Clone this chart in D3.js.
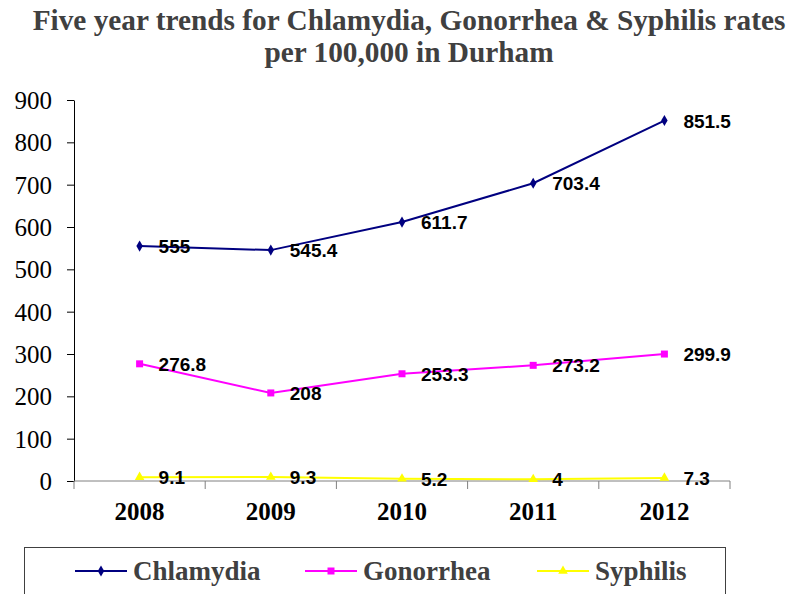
<!DOCTYPE html>
<html>
<head>
<meta charset="utf-8">
<script src="https://cdn.jsdelivr.net/npm/d3@7"></script>
<style>
  html, body { margin: 0; padding: 0; background: #fff; }
  svg { display: block; }
</style>
</head>
<body>
<svg id="chart" width="790" height="594"></svg>
<script>
// Rates per 100,000 population, by year
const years = ["2008", "2009", "2010", "2011", "2012"];
const chlamydia = [555, 545.4, 611.7, 703.4, 851.5];
const gonorrhea = [276.8, 208, 253.3, 273.2, 299.9];
const syphilis = [9.1, 9.3, 5.2, 4, 7.3];
const yTicks = [0, 100, 200, 300, 400, 500, 600, 700, 800, 900];
const seriesNames = ["Chlamydia", "Gonorrhea", "Syphilis"];

const SERIF = "'Liberation Serif'";
const SANS = "'Liberation Sans'";

const series = [
  { name: seriesNames[0], values: chlamydia, color: "#000080", symbol: d3.symbolDiamond, size: 36 },
  { name: seriesNames[1], values: gonorrhea, color: "#FF00FF", symbol: d3.symbolSquare, size: 49 },
  { name: seriesNames[2], values: syphilis, color: "#FFFF00", symbol: d3.symbolTriangle, size: 40 }
];

const svg = d3.select("#chart");
const plot = { left: 74, right: 730, top: 100, bottom: 481 };

const x = d3.scaleBand().domain(years).range([plot.left, plot.right]);
const y = d3.scaleLinear().domain([0, 900]).range([plot.bottom, plot.top]);

// Title: two centred lines, sized so the first line spans the chart width
const titleLines = ["Five year trends for Chlamydia, Gonorrhea & Syphilis rates", "per 100,000 in Durham"];
const title = svg.append("text")
  .attr("text-anchor", "middle")
  .style("font-family", SERIF)
  .attr("font-weight", "bold")
  .attr("font-size", 29)
  .attr("fill", "#404040");
title.selectAll("tspan").data(titleLines).enter().append("tspan")
  .attr("x", 409)
  .attr("y", (d, i) => 30 + i * 32)
  .text(d => d);
const firstW = title.select("tspan").node().getComputedTextLength();
if (firstW > 0) title.attr("font-size", Math.min(30, 29 * 753 / firstW));

// Y axis
const yAxis = svg.append("g")
  .attr("transform", `translate(${plot.left},0)`)
  .call(d3.axisLeft(y).tickValues(yTicks).tickSize(7).tickPadding(15).tickSizeOuter(0));
yAxis.attr("font-family", null).attr("font-size", null);
yAxis.select(".domain").attr("stroke", "#000");
yAxis.selectAll(".tick line").attr("stroke", "#000");
yAxis.selectAll("text")
  .style("font-family", SERIF)
  .attr("font-size", 25)
  .attr("dy", "0.34em")
  .attr("fill", "#000");

// X axis with ticks between categories
const xAxis = svg.append("g").attr("transform", `translate(0,${plot.bottom})`);
xAxis.append("line")
  .attr("x1", plot.left).attr("x2", plot.right)
  .attr("stroke", "#808080").attr("stroke-width", 1);
const boundaries = years.map(d => x(d)).concat([x(years[years.length - 1]) + x.bandwidth()]);
xAxis.selectAll("line.tick").data(boundaries).enter().append("line")
  .attr("class", "tick")
  .attr("x1", d => d).attr("x2", d => d)
  .attr("y1", 0).attr("y2", 8)
  .attr("stroke", "#808080");
xAxis.selectAll("text").data(years).enter().append("text")
  .attr("x", d => x(d) + x.bandwidth() / 2)
  .attr("y", 39)
  .attr("text-anchor", "middle")
  .style("font-family", SERIF)
  .attr("font-weight", "bold")
  .attr("font-size", 25)
  .attr("fill", "#000")
  .text(d => d);

const cx = d => x(d) + x.bandwidth() / 2;
const line = d3.line().x((v, i) => cx(years[i])).y(v => y(v));

// Series lines and markers
series.forEach(s => {
  const g = svg.append("g");
  g.append("path")
    .datum(s.values)
    .attr("d", line)
    .attr("fill", "none")
    .attr("stroke", s.color)
    .attr("stroke-width", 2);
  g.selectAll("path.marker").data(s.values).enter().append("path")
    .attr("class", "marker")
    .attr("d", d3.symbol().type(s.symbol).size(s.size))
    .attr("transform", (v, i) => `translate(${cx(years[i])},${y(v)})`)
    .attr("fill", s.color);
});

// Value labels to the right of each point
series.forEach(s => {
  svg.append("g").selectAll("text").data(s.values).enter().append("text")
    .attr("x", (v, i) => cx(years[i]) + 19)
    .attr("y", v => y(v) + 7)
    .style("font-family", SANS)
    .attr("font-weight", "bold")
    .attr("font-size", 19)
    .attr("fill", "#000")
    .text(v => String(v));
});

// Legend
svg.append("rect")
  .attr("x", 24.5).attr("y", 547.5)
  .attr("width", 701).attr("height", 60)
  .attr("fill", "#fff")
  .attr("stroke", "#404040").attr("stroke-width", 1);
const legendX = [75, 305, 537];
series.forEach((s, i) => {
  const g = svg.append("g").attr("transform", `translate(${legendX[i]},571)`);
  g.append("line").attr("x1", 0).attr("x2", 52).attr("stroke", s.color).attr("stroke-width", 2);
  g.append("path").attr("d", d3.symbol().type(s.symbol).size(s.size)).attr("transform", "translate(26,0)").attr("fill", s.color);
  g.append("text")
    .attr("x", 58).attr("y", 9)
    .style("font-family", SERIF)
    .attr("font-weight", "bold")
    .attr("font-size", 27)
    .attr("fill", "#404040")
    .text(s.name);
});
</script>
</body>
</html>
